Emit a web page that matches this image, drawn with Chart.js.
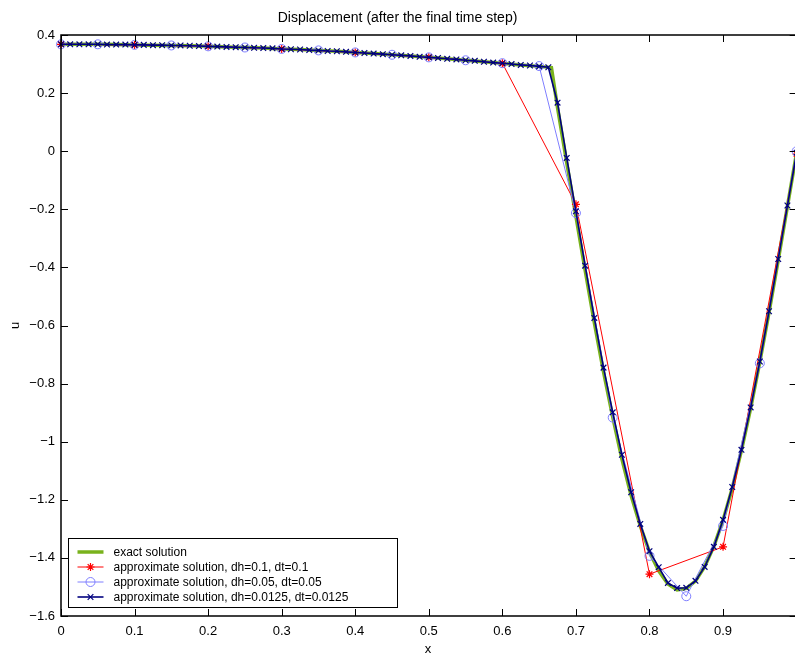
<!DOCTYPE html>
<html>
<head>
<meta charset="utf-8">
<script src="https://cdn.jsdelivr.net/npm/chart.js@4.4.1/dist/chart.umd.min.js"></script>
<style>
  html, body { margin: 0; padding: 0; background: #fff; overflow: hidden; }
  #wrap { width: 795px; height: 657px; }
</style>
</head>
<body>
<div id="wrap"><canvas id="dispChart" width="795" height="657"></canvas></div>
<script>
// exact solution
const xExact = [0, 0.025, 0.05, 0.075, 0.1, 0.125, 0.15, 0.175, 0.2, 0.225, 0.25, 0.275, 0.3, 0.325, 0.35, 0.375, 0.4, 0.425, 0.45, 0.475, 0.5, 0.525, 0.55, 0.575, 0.6, 0.625, 0.65, 0.6667,
  0.675, 0.6875, 0.7, 0.7125, 0.725, 0.7375, 0.75, 0.7625, 0.775, 0.7875, 0.8, 0.8125, 0.825, 0.8375, 0.85, 0.8625, 0.875, 0.8875, 0.9, 0.9125, 0.925, 0.9375, 0.95, 0.9625, 0.975, 0.9875, 1.0];
const uExact = [0.368, 0.368, 0.368, 0.367, 0.366, 0.365, 0.364, 0.363, 0.361, 0.359, 0.357, 0.355, 0.352, 0.350, 0.347, 0.344, 0.340, 0.336, 0.332, 0.328, 0.323, 0.318, 0.313, 0.308, 0.303, 0.297, 0.292, 0.288,
  0.150, -0.040, -0.225, -0.410, -0.590, -0.760, -0.915, -1.060, -1.185, -1.290, -1.380, -1.445, -1.490, -1.510, -1.505, -1.480, -1.430, -1.360, -1.270, -1.160, -1.030, -0.885, -0.725, -0.555, -0.375, -0.190, -0.005];

// dh=0.1, dt=0.1
const xCoarse = [0, 0.1, 0.2, 0.3, 0.4, 0.5, 0.6, 0.7, 0.8, 0.9, 1.0];
const uCoarse = [0.368, 0.366, 0.361, 0.352, 0.340, 0.323, 0.303, -0.183, -1.456, -1.362, -0.010];

// dh=0.05, dt=0.05
const xMid = [0, 0.05, 0.1, 0.15, 0.2, 0.25, 0.3, 0.35, 0.4, 0.45, 0.5, 0.55, 0.6, 0.65, 0.7, 0.75, 0.8, 0.85, 0.9, 0.95, 1.0];
const uMid = [0.368, 0.368, 0.366, 0.364, 0.361, 0.357, 0.352, 0.347, 0.340, 0.332, 0.323, 0.313, 0.303, 0.293, -0.213, -0.917, -1.393, -1.532, -1.290, -0.730, 0.000];

// dh=0.0125, dt=0.0125
const xFine = [0, 0.0125, 0.025, 0.0375, 0.05, 0.0625, 0.075, 0.0875, 0.1, 0.1125, 0.125, 0.1375, 0.15, 0.1625, 0.175, 0.1875,
  0.2, 0.2125, 0.225, 0.2375, 0.25, 0.2625, 0.275, 0.2875, 0.3, 0.3125, 0.325, 0.3375, 0.35, 0.3625, 0.375, 0.3875,
  0.4, 0.4125, 0.425, 0.4375, 0.45, 0.4625, 0.475, 0.4875, 0.5, 0.5125, 0.525, 0.5375, 0.55, 0.5625, 0.575, 0.5875,
  0.6, 0.6125, 0.625, 0.6375, 0.65, 0.6625, 0.675, 0.6875, 0.7, 0.7125, 0.725, 0.7375, 0.75, 0.7625, 0.775, 0.7875,
  0.8, 0.8125, 0.825, 0.8375, 0.85, 0.8625, 0.875, 0.8875, 0.9, 0.9125, 0.925, 0.9375, 0.95, 0.9625, 0.975, 0.9875, 1.0];
const uFine = [0.368, 0.368, 0.368, 0.368, 0.368, 0.367, 0.367, 0.367, 0.366, 0.366, 0.365, 0.365, 0.364, 0.364, 0.363, 0.362,
  0.361, 0.360, 0.359, 0.358, 0.357, 0.356, 0.355, 0.354, 0.352, 0.351, 0.350, 0.348, 0.347, 0.345, 0.344, 0.342,
  0.340, 0.338, 0.336, 0.334, 0.332, 0.330, 0.328, 0.325, 0.323, 0.321, 0.318, 0.316, 0.313, 0.311, 0.308, 0.305,
  0.303, 0.300, 0.297, 0.295, 0.292, 0.289, 0.167, -0.023, -0.207, -0.394, -0.574, -0.745, -0.899, -1.045, -1.174, -1.283,
  -1.377, -1.432, -1.486, -1.504, -1.503, -1.479, -1.431, -1.362, -1.269, -1.156, -1.028, -0.882, -0.724, -0.551, -0.371, -0.187, -0.005];

const xTicks = [0, 0.1, 0.2, 0.3, 0.4, 0.5, 0.6, 0.7, 0.8, 0.9];
const yTicks = [-1.6, -1.4, -1.2, -1, -0.8, -0.6, -0.4, -0.2, 0, 0.2, 0.4];

const seriesLabels = [
  "exact solution",
  "approximate solution, dh=0.1, dt=0.1",
  "approximate solution, dh=0.05, dt=0.05",
  "approximate solution, dh=0.0125, dt=0.0125",
];

const FONT = "'Liberation Sans', Arial, Helvetica, sans-serif";

function toPoints(xs, ys) {
  return xs.map((x, i) => ({ x: x, y: ys[i] }));
}

function fmtTick(v) {
  const s = String(Math.abs(Math.round(v * 10) / 10));
  return v < 0 ? "\u2212" + s : s;
}

// matlab style box: inward ticks on all sides + legend in the lower left corner
const boxPlugin = {
  id: "matlabBox",
  afterDatasetsDraw(chart) {
    const ctx = chart.ctx;
    const { left, right, top, bottom } = chart.chartArea;
    const xs = chart.scales.x;
    const ys = chart.scales.y;
    const tl = 7;
    const rightEdge = xs.getPixelForValue(1.0);

    ctx.save();
    ctx.strokeStyle = "#000";
    ctx.lineWidth = 1.5;
    ctx.beginPath();
    ctx.moveTo(rightEdge + 2, top);
    ctx.lineTo(left, top);
    ctx.lineTo(left, bottom);
    ctx.lineTo(rightEdge + 2, bottom);
    ctx.stroke();

    ctx.lineWidth = 1;
    ctx.beginPath();
    xs.ticks.forEach(t => {
      const px = Math.round(xs.getPixelForValue(t.value)) + 0.5;
      ctx.moveTo(px, bottom);
      ctx.lineTo(px, bottom - tl);
      ctx.moveTo(px, top);
      ctx.lineTo(px, top + tl);
    });
    ys.ticks.forEach(t => {
      const py = Math.round(ys.getPixelForValue(t.value)) + 0.5;
      ctx.moveTo(left, py);
      ctx.lineTo(left + tl, py);
      ctx.moveTo(rightEdge, py);
      ctx.lineTo(rightEdge - tl, py);
    });
    ctx.stroke();

    // legend
    const bx = left + 7.5, bw = 329, bh = 69;
    const by = bottom - 9 - bh + 0.5;
    ctx.fillStyle = "#fff";
    ctx.fillRect(bx, by, bw, bh);
    ctx.lineWidth = 1;
    ctx.strokeStyle = "#000";
    ctx.strokeRect(bx, by, bw, bh);

    ctx.font = "12px " + FONT;
    ctx.textBaseline = "middle";
    ctx.textAlign = "left";
    chart.data.datasets.forEach((ds, i) => {
      const ry = by + 13.5 + i * 15;
      const x0 = bx + 9, x1 = bx + 35;
      ctx.strokeStyle = ds.borderColor;
      ctx.lineWidth = ds.borderWidth;
      ctx.beginPath();
      ctx.moveTo(x0, ry);
      ctx.lineTo(x1, ry);
      ctx.stroke();
      if (ds.pointRadius > 0) {
        ctx.strokeStyle = ds.pointBorderColor;
        ctx.fillStyle = "rgba(0,0,0,0)";
        ctx.lineWidth = ds.pointBorderWidth;
        Chart.helpers.drawPoint(ctx, {
          pointStyle: ds.pointStyle,
          radius: ds.pointRadius,
          rotation: 0,
          borderWidth: ds.pointBorderWidth,
        }, (x0 + x1) / 2, ry);
      }
      ctx.fillStyle = "#000";
      ctx.fillText(ds.label, bx + 45, ry + 0.5);
    });
    ctx.restore();
  },
};

const ctx = document.getElementById("dispChart");

new Chart(ctx, {
  type: "line",
  data: {
    datasets: [
      {
        label: seriesLabels[0],
        data: toPoints(xExact, uExact),
        borderColor: "#79b21c",
        borderWidth: 3.5,
        pointRadius: 0,
        order: 4,
      },
      {
        label: seriesLabels[1],
        data: toPoints(xCoarse, uCoarse),
        borderColor: "#ff0000",
        borderWidth: 1,
        pointStyle: "star",
        pointRadius: 4,
        pointBorderColor: "#ff0000",
        pointBorderWidth: 1.2,
        order: 3,
      },
      {
        label: seriesLabels[2],
        data: toPoints(xMid, uMid),
        borderColor: "#7f7fff",
        borderWidth: 1,
        pointStyle: "circle",
        pointRadius: 4.5,
        pointBackgroundColor: "rgba(0,0,0,0)",
        pointBorderColor: "#7f7fff",
        pointBorderWidth: 1,
        order: 2,
      },
      {
        label: seriesLabels[3],
        data: toPoints(xFine, uFine),
        borderColor: "#00007f",
        borderWidth: 1.6,
        pointStyle: "crossRot",
        pointRadius: 4,
        pointBorderColor: "#00007f",
        pointBorderWidth: 1.2,
        order: 1,
      },
    ],
  },
  options: {
    responsive: false,
    animation: false,
    devicePixelRatio: 1,
    clip: false,
    datasets: { line: { tension: 0, fill: false, clip: false } },
    layout: { autoPadding: false, padding: { left: 0, right: 0, top: 0, bottom: 0 } },
    plugins: {
      legend: { display: false },
      tooltip: { enabled: false },
      title: {
        display: true,
        text: "Displacement (after the final time step)",
        color: "#000",
        font: { family: FONT, size: 14, weight: "normal" },
        padding: { top: 10, bottom: 8.2 },
      },
    },
    scales: {
      x: {
        type: "linear",
        min: 0,
        max: 0.9978,
        border: { display: false },
        grid: { display: false, drawTicks: false },
        afterBuildTicks: (scale) => {
          scale.ticks = xTicks.map(v => ({ value: v }));
        },
        afterFit: (scale) => {
          scale.height = 41;
        },
        ticks: {
          color: "#000",
          padding: 8,
          maxRotation: 0,
          autoSkip: false,
          font: { family: FONT, size: 13 },
          callback: (v) => fmtTick(v),
        },
        title: {
          display: true,
          text: "x",
          color: "#000",
          font: { family: FONT, size: 13 },
          padding: { top: 0, bottom: 0 },
        },
      },
      y: {
        type: "linear",
        min: -1.6,
        max: 0.4,
        border: { display: false },
        grid: { display: false, drawTicks: false },
        afterBuildTicks: (scale) => {
          scale.ticks = yTicks.map(v => ({ value: v }));
        },
        afterFit: (scale) => {
          scale.width = 61;
        },
        ticks: {
          color: "#000",
          padding: 6,
          autoSkip: false,
          font: { family: FONT, size: 13 },
          callback: (v) => fmtTick(v),
        },
        title: {
          display: true,
          text: "u",
          color: "#000",
          font: { family: FONT, size: 13 },
          padding: { top: 8, bottom: 0 },
        },
      },
    },
  },
  plugins: [boxPlugin],
});
</script>
</body>
</html>
